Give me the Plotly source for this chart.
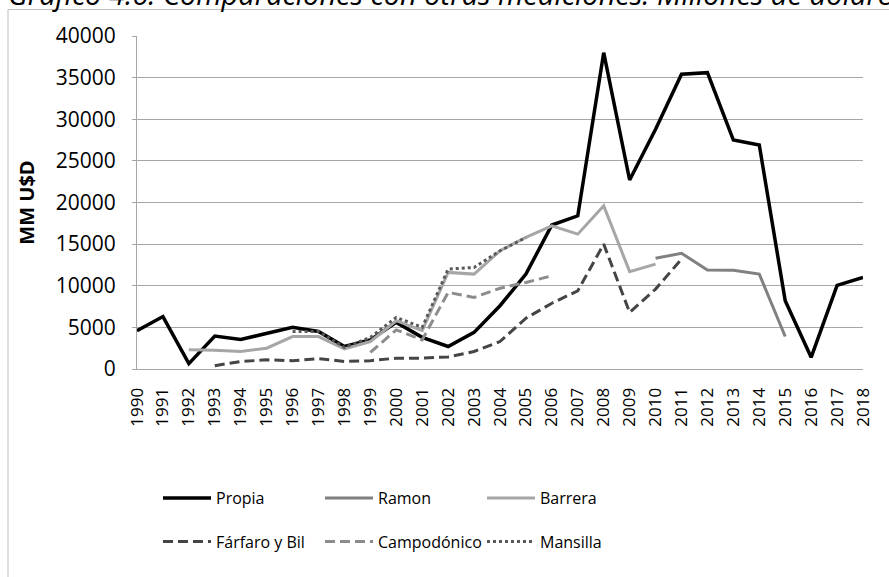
import plotly.graph_objects as go

years = [str(y) for y in range(1990, 2019)]
N = None
propia = [4600, 6300, 650, 3950, 3550, 4300, 5000, 4500, 2700, 3500,
          5600, 3800, 2700, 4400, 7600, 11400, 17300, 18400, 38000, 22700,
          28800, 35400, 35600, 27500, 26900, 8200, 1400, 10050, 11000]
ramon = [N]*20 + [13300, 13900, 11900, 11850, 11400, 3900, N, N, N]
barrera = [N, N, 2300, 2250, 2100, 2500, 3900, 3900, 2400, 3300,
           5800, 4600, 11600, 11400, 14200, 15800, 17200, 16200, 19600, 11700,
           12600] + [N]*8
farfaro = [N, N, N, 400, 900, 1100, 1000, 1250, 900, 1000,
           1300, 1300, 1450, 2100, 3300, 6100, 7900, 9400, 15000, 6800,
           9600, 13200] + [N]*7
campodonico = [N]*9 + [2000, 4700, 3500, 9200, 8600, 9700, 10400, 11200] + [N]*12
mansilla = [N]*6 + [4500, 4500, 2600, 3800, 6200, 5000, 12000, 12200, 14200, 15800] + [N]*13

series = [
    ("Propia", propia, "#000000", "solid", 3.5, "legend"),
    ("Ramon", ramon, "#808080", "solid", 3, "legend"),
    ("Barrera", barrera, "#a6a6a6", "solid", 3, "legend"),
    ("Fárfaro y Bil", farfaro, "#454545", "10px,5px", 3, "legend2"),
    ("Campodónico", campodonico, "#8c8c8c", "10px,5px", 3, "legend2"),
    ("Mansilla", mansilla, "#595959", "dot", 3, "legend2"),
]

FONT = "Open Sans"
L, R, T, B = 137, 26, 36, 208
W, H = 889, 577
PW, PH = W - L - R, H - T - B

def px_x(p):
    return (p - L) / PW

def px_y(p):
    return (H - B - p) / PH

fig = go.Figure()
for name, vals, color, dash, lw, lg in series:
    fig.add_trace(go.Scatter(
        x=years, y=vals, name=name, mode="lines",
        line=dict(color=color, width=lw, dash=dash),
        connectgaps=False, legend=lg,
    ))

legend_common = dict(
    orientation="h", xanchor="left", yanchor="middle",
    x=px_x(158), font=dict(family=FONT, size=16, color="#000000"),
    bgcolor="rgba(0,0,0,0)", itemwidth=48,
    entrywidth=99, entrywidthmode="pixels", traceorder="normal",
)

fig.update_layout(
    width=W, height=H,
    margin=dict(l=L, r=R, t=T, b=B, autoexpand=False),
    paper_bgcolor="white", plot_bgcolor="white",
    font=dict(family=FONT, color="#000000"),
    showlegend=True,
    legend=dict(y=px_y(498), **legend_common),
    legend2=dict(y=px_y(541.7), **legend_common),
    xaxis=dict(
        type="category", showgrid=False, showline=True,
        linecolor="#a6a6a6", linewidth=1, ticks="",
        tickangle=-90, tickfont=dict(family=FONT, size=17, color="#000000"),
        ticklabelstandoff=11, automargin=False,
    ),
    yaxis=dict(
        range=[0, 40000], dtick=5000, tickformat="d", showgrid=True,
        gridcolor="#a6a6a6", gridwidth=1, zeroline=False,
        showline=True, linecolor="#a6a6a6", linewidth=1,
        ticks="outside", ticklen=4, tickcolor="#a6a6a6",
        tickfont=dict(family=FONT, size=21, color="#000000"),
        ticklabelstandoff=12, automargin=False,
        title=dict(text="<b>MM U$D</b>", font=dict(family=FONT, size=20, color="#000000"), standoff=15),
    ),
    shapes=[dict(
        type="rect", xref="paper", yref="paper", layer="below",
        x0=px_x(8), x1=px_x(910), y0=px_y(9.5), y1=px_y(620),
        line=dict(color="#bfbfbf", width=1), fillcolor="rgba(0,0,0,0)",
    )],
    annotations=[dict(
        text="Gráfico 4.6: Comparaciones con otras mediciones. Millones de dólares",
        xref="paper", yref="paper", x=px_x(6), y=px_y(-6),
        xanchor="left", yanchor="middle", showarrow=False,
        font=dict(family=FONT, size=29, color="#000000", style="italic"),
    )],
)

fig.write_html("out.html", config={"displayModeBar": False},
               post_script="document.body.style.margin='0';")
